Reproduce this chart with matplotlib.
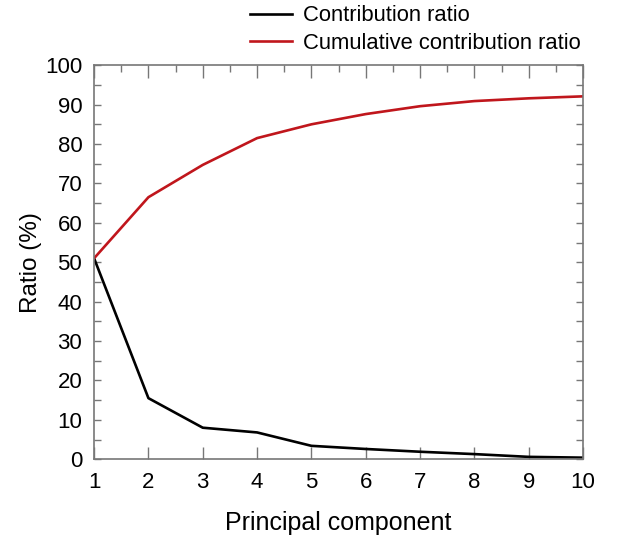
import matplotlib
matplotlib.use('Agg')
import matplotlib.pyplot as plt
from matplotlib.ticker import MultipleLocator

plt.rcParams['font.family'] = ['Liberation Sans', 'DejaVu Sans']

# data
components = [1, 2, 3, 4, 5, 6, 7, 8, 9, 10]
contribution = [51.0, 15.5, 8.0, 6.8, 3.4, 2.6, 1.9, 1.3, 0.6, 0.4]
cumulative = [51.0, 66.5, 74.7, 81.5, 85.0, 87.6, 89.6, 90.9, 91.6, 92.1]

fig = plt.figure(figsize=(6.19, 5.39), dpi=100)
ax = fig.add_axes([0.152, 0.148, 0.790, 0.731])

l1, = ax.plot(components, contribution, color='black', lw=1.9, label='Contribution ratio')
l2, = ax.plot(components, cumulative, color='#c0161c', lw=1.9, label='Cumulative contribution ratio')

ax.set_xlim(1, 10)
ax.set_ylim(0, 100)
ax.xaxis.set_major_locator(MultipleLocator(1))
ax.xaxis.set_minor_locator(MultipleLocator(0.5))
ax.yaxis.set_major_locator(MultipleLocator(10))
ax.yaxis.set_minor_locator(MultipleLocator(5))

grey = '#777777'
for s in ax.spines.values():
    s.set_color(grey)
    s.set_linewidth(1.2)

ax.tick_params(axis='both', which='both', direction='in', colors=grey,
               labelcolor='black', labelsize=16, width=1.0)
ax.tick_params(axis='x', which='major', length=9, top=True, bottom=True, pad=9)
ax.tick_params(axis='x', which='minor', length=5, top=True, bottom=False)
ax.tick_params(axis='y', which='both', length=5, left=True, right=True, pad=8.5)

ax.set_xlabel('Principal component', fontsize=18, labelpad=13)
ax.set_ylabel('Ratio (%)', fontsize=17.5, labelpad=2)

fig.legend(handles=[l1, l2], loc='upper left', bbox_to_anchor=(0.404, 0.99),
           frameon=False, fontsize=15.8, handlelength=1.9, handletextpad=0.5,
           labelspacing=0.3, borderaxespad=0, borderpad=0)

fig.savefig('out.png', dpi=100)
